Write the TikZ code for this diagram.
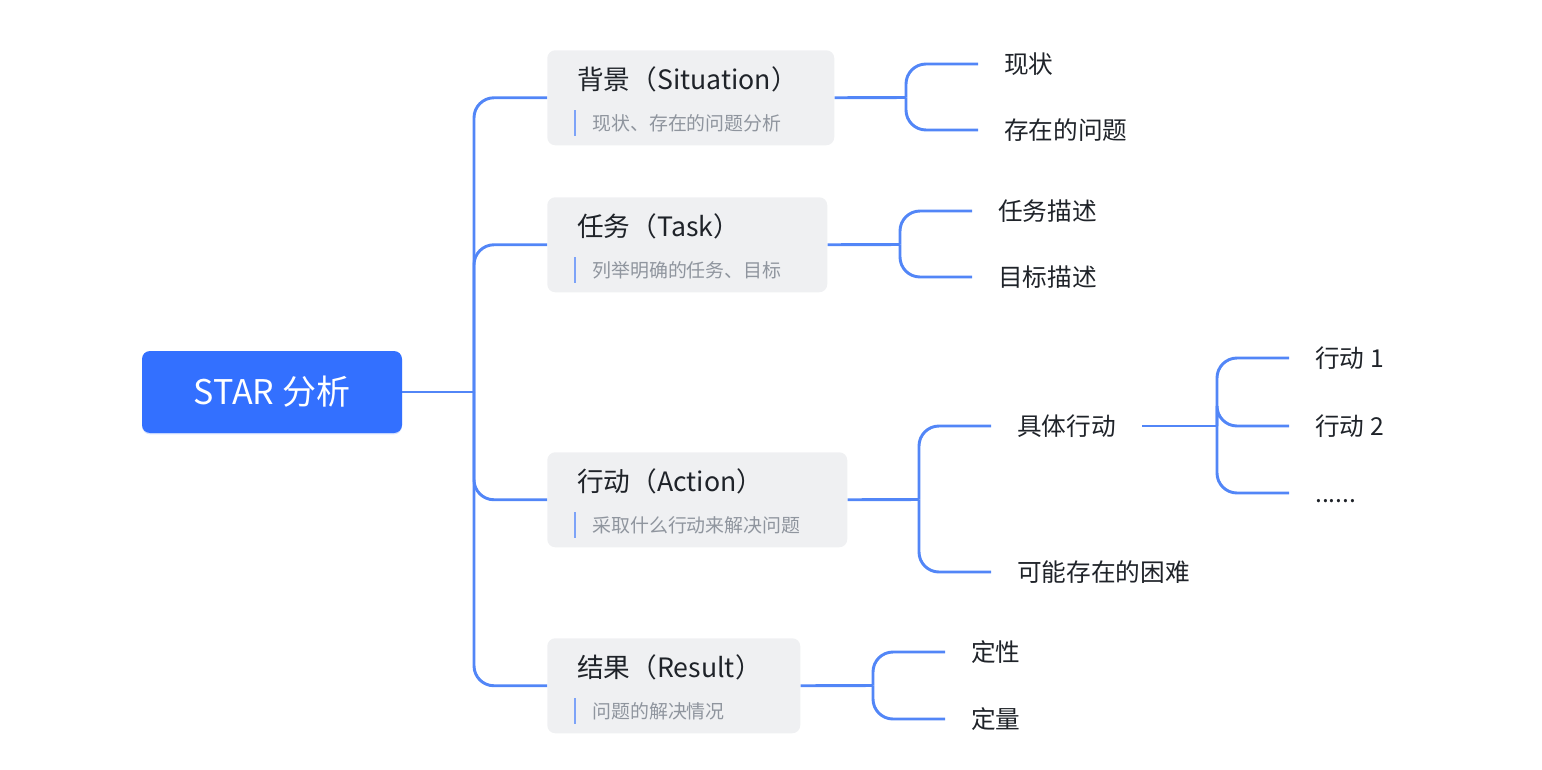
\documentclass[tikz,border=0pt]{standalone}
\usepackage{fontspec}
\setmainfont{Noto Sans CJK SC}
\usetikzlibrary{shadows}
\definecolor{rootblue}{RGB}{51,112,255}
\definecolor{linkblue}{RGB}{82,134,247}
\definecolor{barblue}{RGB}{125,163,248}
\definecolor{topicgray}{RGB}{239,240,242}
\definecolor{inkdark}{RGB}{31,35,41}
\definecolor{notegray}{RGB}{143,149,158}
\tikzset{
  root/.style={fill=rootblue, text=white, rounded corners=6pt, minimum width=195pt,
    minimum height=61.5pt, text height=22.4pt, text depth=3.1pt,
    font=\fontsize{25.5}{30}\selectfont,
    drop shadow={shadow xshift=0pt, shadow yshift=-1pt, opacity=0.2, fill=rootblue}},
  topic/.style={fill=topicgray, rounded corners=6pt, minimum height=71.25pt,
    anchor=north west, inner sep=0pt},
  title/.style={anchor=west, inner sep=0pt, text=inkdark, text height=17.6pt,
    text depth=2.4pt, font=\fontsize{20}{24}\selectfont},
  note/.style={anchor=west, inner sep=0pt, text=notegray, text height=12.5pt,
    text depth=1.7pt, font=\fontsize{14.2}{17}\selectfont},
  bar/.style={barblue, line width=2pt},
  leaf/.style={anchor=west, inner xsep=19.5pt, inner ysep=0pt, text=inkdark,
    text height=16.3pt, text depth=2.2pt, font=\fontsize{18.5}{22}\selectfont},
  link/.style={linkblue, line width=2.2pt},
  elbow/.style={link, rounded corners=15pt},
}
\begin{document}
\begin{tikzpicture}[x=0.75pt, y=-0.75pt]
			%%%%% START %%%%%
			\useasboundingbox (0,0) rectangle (1542,770);
			
			\node[root] (star) at (272,392) {STAR 分析};
			
			% topics
			\node[topic, minimum width=215.25pt] (sit) at (547,50) {};
			\node[topic, minimum width=210pt] (task) at (547,197) {};
			\node[topic, minimum width=225pt] (act) at (547,452) {};
			\node[topic, minimum width=189.75pt] (res) at (547,638) {};
			
			\node[title] (sitT) at (577,79) {背景（Situation）};
			\node[title] (taskT) at (577,226) {任务（Task）};
			\node[title] (actT) at (577,481) {行动（Action）};
			\node[title] (resT) at (577,667) {结果（Result）};
			
			\node[note] (sitN) at (592,123) {现状、存在的问题分析};
			\node[note] (taskN) at (592,270) {列举明确的任务、目标};
			\node[note] (actN) at (592,525) {采取什么行动来解决问题};
			\node[note] (resN) at (592,711) {问题的解决情况};
			
			\foreach \n in {sitN,taskN,actN,resN}
				\draw[bar] ([xshift=-12.75pt,yshift=9.4pt]\n.west) -- ([xshift=-12.75pt,yshift=-9.4pt]\n.west);
			
			% leaves
			\node[leaf] (now) at (978,64) {现状};
			\node[leaf] (prob) at (978,130) {存在的问题};
			\node[leaf] (tdesc) at (972,211) {任务描述};
			\node[leaf] (gdesc) at (972,277) {目标描述};
			\node[leaf] (conc) at (991,426) {具体行动};
			\node[leaf] (hard) at (991,572) {可能存在的困难};
			\node[leaf] (qual) at (945,652) {定性};
			\node[leaf] (quant) at (945,719) {定量};
			\node[leaf] (act1) at (1289,358) {行动 1};
			\node[leaf] (act2) at (1289,426) {行动 2};
			\node[leaf] (more) at (1289,493) {......};
			
			% connectors
			\coordinate (hub) at (474,392);
			\coordinate (sitR) at (906,97.5);
			\coordinate (taskR) at (900,244.5);
			\coordinate (actR) at (919,499.5);
			\coordinate (resR) at (873,685.5);
			\coordinate (concR) at (1217,426);
			
			\draw[link] (star.east) -- (hub);
			\foreach \t in {sit,task,act,res}
				\draw[elbow] (hub) |- (\t.west);
			
			\draw[link] (sit.east) -- (sitR);
			\foreach \l in {now,prob} \draw[elbow] (sitR) |- (\l.west);
			\draw[link] (task.east) -- (taskR);
			\foreach \l in {tdesc,gdesc} \draw[elbow] (taskR) |- (\l.west);
			\draw[link] (act.east) -- (actR);
			\foreach \l in {conc,hard} \draw[elbow] (actR) |- (\l.west);
			\draw[link] (res.east) -- (resR);
			\foreach \l in {qual,quant} \draw[elbow] (resR) |- (\l.west);
			\draw[link] (conc.east) -- (concR);
			\foreach \l in {act1,act2,more} \draw[elbow] (concR) |- (\l.west);
			
			%%%%% END %%%%%
\end{tikzpicture}
\end{document}
